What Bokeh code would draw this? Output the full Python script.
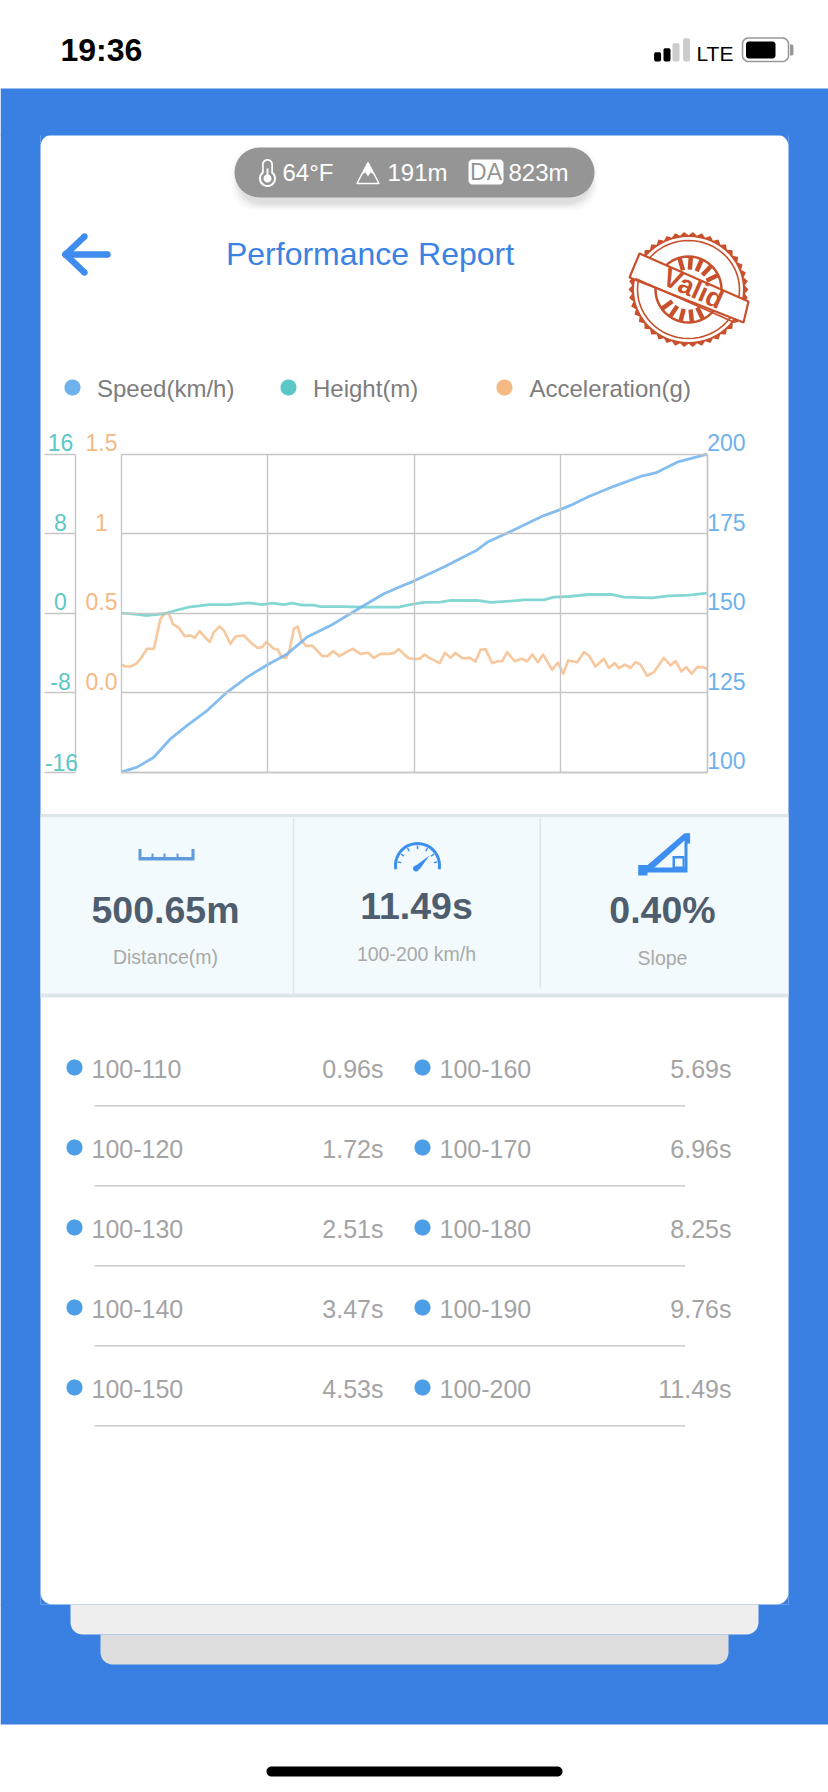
import math
from bokeh.embed import file_html
from bokeh.resources import INLINE
from bokeh.plotting import figure
from bokeh.models import Range1d, LinearAxis, FixedTicker, Label, PolyAnnotation

# ---- chart data ----
speed_t = [0, .314, .640, .967, 1.294, 1.686, 2.078, 2.471, 2.869, 3.255, 3.647, 4.105, 4.758, 5.150,
           5.477, 5.738, 6.327, 6.980, 7.176, 7.569, 8.287, 8.595, 8.810, 9.170, 9.660, 10.183, 10.477,
           10.902, 11.49]
speed_v = [100, 101.6, 104.7, 110.5, 114.7, 119.4, 125.2, 129.9, 133.8, 137.2, 142.5, 146.1, 152.4, 156.1,
           158.4, 160.1, 164.5, 169.9, 172.3, 175.2, 180.7, 182.5, 183.9, 186.7, 189.9, 193.0, 194.1,
           197.5, 200]
height_t = [0, .215, .476, .672, .868, 1.064, 1.326, 1.718, 2.110, 2.502, 2.764, 2.960, 3.188, 3.352, 3.548,
            3.777, 3.907, 4.332, 4.790, 5.443, 5.639, 5.934, 6.261, 6.457, 6.980, 7.242, 7.634, 7.895, 8.287,
            8.483, 8.777, 9.170, 9.627, 9.856, 10.411, 10.738, 11.130, 11.49]
height_v = [0, -.06, -.23, -.13, -.03, .27, .61, .87, .87, 1.04, .87, 1.01, .87, 1.01, .81,
            .81, .67, .67, .61, .61, .84, 1.08, 1.11, 1.28, 1.28, 1.08, 1.21, 1.34, 1.34,
            1.61, 1.68, 1.88, 1.88, 1.61, 1.55, 1.75, 1.81, 2.02]
accel_t = [0, .084, .182, .293, .378, .509, .640, .705, .770, .855, .934, 1.012, 1.130, 1.241, 1.359, 1.444,
           1.535, 1.640, 1.738, 1.816, 1.927, 2.012, 2.143, 2.241, 2.404, 2.535, 2.666, 2.764, 2.842, 2.927,
           2.992, 3.071, 3.143, 3.234, 3.300, 3.385, 3.463, 3.535, 3.626, 3.744, 3.842, 3.940, 4.038, 4.156,
           4.280, 4.430, 4.541, 4.692, 4.842, 4.953, 5.084, 5.247, 5.345, 5.443, 5.541, 5.639,
           5.738, 5.856, 5.948, 6.078, 6.248, 6.346, 6.457, 6.555, 6.686, 6.836, 6.947, 7.046, 7.144, 7.274,
           7.385, 7.470, 7.569, 7.712, 7.843, 7.961, 8.059, 8.170, 8.274, 8.451, 8.562, 8.667,
           8.764, 8.941, 9.072, 9.170, 9.300, 9.464, 9.562, 9.679, 9.758, 9.875, 9.987, 10.085, 10.183, 10.313,
           10.444, 10.640, 10.771, 10.869, 10.987, 11.078, 11.183, 11.294, 11.392, 11.49]
accel_v = [.177, .165, .165, .182, .213, .276, .276, .370, .465, .500, .500, .433, .408, .356, .360, .345,
           .387, .349, .318, .381, .416, .391, .307, .353, .360, .318, .282, .286, .318, .297,
           .276, .272, .224, .219, .265, .402, .416, .328, .293, .297, .265, .230, .230, .261,
           .230, .259, .276, .244, .251, .219, .244, .244, .249, .274, .244, .217,
           .213, .213, .240, .213, .186, .251, .219, .251, .217, .219, .196, .270, .274, .186,
           .198, .198, .255, .198, .213, .198, .240, .192, .240, .144, .190, .119,
           .203, .192, .255, .234, .165, .213, .156, .186, .154, .177, .156, .192, .177, .106,
           .129, .219, .171, .198, .133, .161, .119, .161, .161, .150]
x_grid = [0, 2.8725, 5.745, 8.6175, 11.49]
speed_ticks = [100, 125, 150, 175, 200]
height_ticks = [-16, -8, 0, 8, 16]
accel_ticks = [0.0, 0.5, 1, 1.5]
accel_tick_text = ["0.0", "0.5", "1", "1.5"]
legend_names = ["Speed(km/h)", "Height(m)", "Acceleration(g)"]
stat_values = ["500.65m", "11.49s", "0.40%"]
stat_names = ["Distance(m)", "100-200 km/h", "Slope"]
left_ranges = ["100-110", "100-120", "100-130", "100-140", "100-150"]
left_times = ["0.96s", "1.72s", "2.51s", "3.47s", "4.53s"]
right_ranges = ["100-160", "100-170", "100-180", "100-190", "100-200"]
right_times = ["5.69s", "6.96s", "8.25s", "9.76s", "11.49s"]

# ---- styles and geometry (page pixels) ----
FONT = "Liberation Sans"
C_SPEED, C_HEIGHT, C_ACCEL = "#6fb1ec", "#5cc7c7", "#f5b984"
BLUE, ICON, GREY = "#3a80e2", "#3d8fef", "#959595"
STAMP = "#c8502c"
C_GRID = "#c6c6c6"
W, H = 828, 1792
PX0, PX1, PY0, PY1 = 0, W, 0, H
FL, FR, FT, FB = 120.7, 706.7, 453.7, 771.7      # plot rectangle
BASE_FIX = 0.37                                  # Label's alphabetic anchor sits this many em low

def spread(lo, hi, a_lo, a_hi, page_a, page_b):
    """range whose lo..hi falls on pixels a_lo..a_hi, given the page's edges"""
    k = (hi - lo) / (a_hi - a_lo)
    return Range1d(lo + (page_a - a_lo) * k, lo + (page_b - a_lo) * k)

p = figure(width=W, height=H, output_backend="svg", toolbar_location=None,
           x_range=Range1d(PX0, PX1), y_range=Range1d(PY1, PY0),
           min_border=0, x_axis_type=None, y_axis_type=None,
           background_fill_color="white", border_fill_color="white")
p.outline_line_color = None
p.extra_x_ranges = {"time": spread(0, 11.49, FL, FR, PX0, PX1)}
p.extra_y_ranges = {"speed": spread(100, 200, FB, FT, PY1, PY0),
                    "height": spread(-16, 16, FB, FT, PY1, PY0),
                    "accel": spread(-0.5, 1.5, FB, FT, PY1, PY0)}

hidden = dict(major_label_standoff=0, major_label_text_font_size="0px", major_label_text_color=None,
              minor_tick_line_color=None)
# time axis: its long inward ticks are the vertical rules, its line the chart's floor
p.add_layout(LinearAxis(x_range_name="time", fixed_location=FB, bounds=(0, 11.49),
                        ticker=FixedTicker(ticks=x_grid), axis_line_color=C_GRID, axis_line_width=1.4,
                        major_tick_line_color=C_GRID, major_tick_line_width=1.4,
                        major_tick_in=int(FB - FT), major_tick_out=0, **hidden), "below")
# speed axis: at the right, its long inward ticks are the horizontal rules
p.add_layout(LinearAxis(y_range_name="speed", fixed_location=FR, bounds=(100, 200),
                        ticker=FixedTicker(ticks=speed_ticks), axis_line_color=C_GRID, axis_line_width=1.4,
                        major_tick_line_color=C_GRID, major_tick_line_width=1.4,
                        major_tick_in=int(FR - FL), major_tick_out=0, **hidden), "right")
# height axis: separate rule with outward ticks
p.add_layout(LinearAxis(y_range_name="height", fixed_location=74.7, bounds=(-16, 16),
                        ticker=FixedTicker(ticks=height_ticks), axis_line_color=C_GRID, axis_line_width=1.4,
                        major_tick_line_color=C_GRID, major_tick_line_width=1.4,
                        major_tick_in=0, major_tick_out=31, **hidden), "left")
# acceleration axis: only its scale is seen, through the texts below
p.add_layout(LinearAxis(y_range_name="accel", fixed_location=FL, bounds=(-0.5, 1.5),
                        ticker=FixedTicker(ticks=accel_ticks), axis_line_color=None,
                        major_tick_line_color=None, major_tick_in=0, major_tick_out=0, **hidden), "left")

p.line(accel_t, accel_v, x_range_name="time", y_range_name="accel", line_color="#f6bd8c", line_width=2.6,
       line_alpha=.85, line_join="round")
p.line(height_t, height_v, x_range_name="time", y_range_name="height", line_color="#5cc9c6", line_width=2.8,
       line_alpha=.75, line_join="round")
p.line(speed_t, speed_v, x_range_name="time", y_range_name="speed", line_color="#6fb1ec", line_width=2.8,
       line_alpha=.85, line_join="round")

# ---- helpers working in page pixels ----
def poly(pts, fill, line=None, lw=1, alpha=1.0):
    p.add_layout(PolyAnnotation(xs=[a for a, _ in pts], ys=[b for _, b in pts],
                                fill_color=fill, fill_alpha=alpha if fill else 0,
                                line_color=line, line_width=lw, line_alpha=1 if line else 0))

def box(x0, y0, x1, y1, fill, alpha=1.0):
    poly([(x0, y0), (x1, y0), (x1, y1), (x0, y1)], fill, alpha=alpha)

def arc(xc, yc, r, a0, a1, n=12, ry=None):
    ry = ry if ry is not None else r
    return [(xc + r * math.cos(math.radians(a0 + (a1 - a0) * i / n)),
             yc - ry * math.sin(math.radians(a0 + (a1 - a0) * i / n))) for i in range(n + 1)]

def circle(xc, yc, r, fill, line=None, lw=1):
    poly(arc(xc, yc, r, 0, 360, 40), fill, line, lw)

def rrect(x0, y0, x1, y1, tl, tr, br, bl, fill, line=None, lw=1, alpha=1.0):
    pts = []
    pts += arc(x0 + tl, y0 + tl, tl, 180, 90, 8) if tl else [(x0, y0)]
    pts += arc(x1 - tr, y0 + tr, tr, 90, 0, 8) if tr else [(x1, y0)]
    pts += arc(x1 - br, y1 - br, br, 0, -90, 8) if br else [(x1, y1)]
    pts += arc(x0 + bl, y1 - bl, bl, -90, -180, 8) if bl else [(x0, y1)]
    poly(pts, fill, line, lw, alpha)

def seg(x0, y0, x1, y1, w, color, caps=False):
    d = math.hypot(x1 - x0, y1 - y0)
    nx, ny = -(y1 - y0) / d * w / 2, (x1 - x0) / d * w / 2
    poly([(x0 + nx, y0 + ny), (x1 + nx, y1 + ny), (x1 - nx, y1 - ny), (x0 - nx, y0 - ny)], color)
    if caps:
        circle(x0, y0, w / 2, color)
        circle(x1, y1, w / 2, color)

def text(x, y, s, size, color, align="left", bold=False, angle=0):
    p.add_layout(Label(x=x, y=y, y_offset=size * BASE_FIX, text=s, text_font=FONT, text_font_size=f"{size}px",
                       text_color=color, text_align=align, text_baseline="alphabetic",
                       text_font_style="bold" if bold else "normal", angle=angle, angle_units="deg"))

def tick_label(x, value, s, color, rng, align="center", lift=3):
    p.add_layout(Label(x=x, y=value, y_range_name=rng, text=s, y_offset=lift + 23 * BASE_FIX, text_font=FONT,
                       text_font_size="23px", text_color=color, text_align=align, text_baseline="alphabetic"))

# ---- tick texts through the chart's own ranges ----
for v in height_ticks:
    tick_label(61 if v == -16 else 60, v, str(v), C_HEIGHT, "height", lift=1 if v == -16 else 3)
for v, s in zip(accel_ticks, accel_tick_text):
    tick_label(101, v, s, C_ACCEL, "accel")
for v in speed_ticks:
    tick_label(FR, v, str(v), C_SPEED, "speed", "left", lift=3)

# ---- blue page and card stack ----
box(PX0, 88, PX1, 135, BLUE)
box(PX0, 134, 40, 1605, BLUE)
box(788, 134, PX1, 1605, BLUE)
box(PX0, 1604, PX1, 1724, BLUE)
R = 12
poly([(40, 134)] + arc(40 + R, 134 + R, R, 90, 180, 8), BLUE)
poly([(788, 134)] + arc(788 - R, 134 + R, R, 90, 0, 8), BLUE)
poly([(40, 1604)] + arc(40 + R, 1604 - R, R, 180, 270, 8), BLUE)
poly([(788, 1604)] + arc(788 - R, 1604 - R, R, 0, -90, 8), BLUE)
rrect(70, 1604, 758, 1634, 0, 0, 12, 12, "#eeeeee")
rrect(100, 1634, 728, 1664, 0, 0, 12, 12, "#dddddd")
rrect(266, 1766, 562, 1776, 5, 5, 5, 5, "#000000")

# ---- status bar ----
text(60, 61, "19:36", 32, "#000000", bold=True)
for x0, top, c in [(653.6, 51.7, "#000000"), (663, 47.7, "#000000"), (672, 42.7, "#cccccc"), (682.6, 37.7, "#cccccc")]:
    rrect(x0, top, x0 + 7, 61, 2, 2, 2, 2, c)
text(696, 61, "LTE", 21, "#000000")
rrect(742, 37.5, 788, 61, 6, 6, 6, 6, None, "#999999", 1.6)
rrect(745.5, 41, 775, 58, 3, 3, 3, 3, "#000000")
rrect(789.5, 44, 793, 55, 0, 2, 2, 0, "#999999")

# ---- conditions pill ----
for grow, alpha in [(7, .04), (5, .05), (3, .07), (1, .09)]:
    rrect(234 + 4 - grow, 147 + 6 - grow, 594 - 4 + grow, 197 + 6 + grow, 25, 25, 25, 25, "#777777", alpha=alpha)
rrect(234, 147, 594, 197, 25, 25, 25, 25, GREY)
circle(267, 178, 8.5, "white")
seg(267, 164, 267, 178, 11, "white", caps=True)
circle(267, 178, 6.5, GREY)
seg(267, 164, 267, 178, 7.5, GREY, caps=True)
circle(267, 178, 4, "white")
seg(267, 168, 267, 178, 2, "white")
text(282, 181, "64°F", 24, "white")
poly([(356.5, 183), (367.5, 162), (378.5, 183)], None, "white", 1.5)
poly([(367.5, 162), (361.5, 174), (365, 172), (367.5, 176), (370, 172), (373.5, 174)], "white")
text(387, 181, "191m", 24, "white")
rrect(468, 159, 503, 184, 4, 4, 4, 4, "white")
text(485.5, 180.5, "DA", 23, GREY, "center")
text(508, 181, "823m", 24, "white")

# ---- header ----
seg(65, 254, 107, 254, 6.5, "#3f8bee", caps=True)
seg(65, 254, 84, 236, 6.5, "#3f8bee", caps=True)
seg(65, 254, 84, 272, 6.5, "#3f8bee", caps=True)
text(369.5, 265, "Performance Report", 32, "#3a82e4", "center")

# stamp
sc = (688, 289)
teeth = []
for i in range(84):
    r = 60 if i % 2 == 0 else 56.5
    a = math.radians(i * 360 / 84)
    teeth.append((sc[0] + r * math.cos(a), sc[1] - r * 0.96 * math.sin(a)))
poly(teeth, STAMP)
poly(arc(sc[0], sc[1], 54.5, 0, 360, 60, ry=52.5), "white")
poly(arc(sc[0], sc[1], 51, 0, 360, 60, ry=49), "white", STAMP, 1.6)
poly(arc(sc[0], sc[1], 33, 0, 360, 48), "white", STAMP, 2.5)
for ang in [70, 90, 110, 130, 50, -60, -80, -100, -120, -40]:
    a = math.radians(ang - 24)
    seg(sc[0] + 20 * math.cos(a), sc[1] - 20 * math.sin(a), sc[0] + 33 * math.cos(a), sc[1] - 33 * math.sin(a), 4.5, STAMP)
poly([(639, 253), (748, 301), (743, 322), (629, 277)], "white", STAMP, 2.2)
seg(635, 278, 733, 321.5, 1.8, STAMP)
text(664, 285, "Valid", 27, STAMP, angle=-24, bold=True)

# ---- legend ----
for x_dot, x_txt, col, name in zip([72, 288, 504], [96.5, 312.5, 529], [C_SPEED, C_HEIGHT, C_ACCEL], legend_names):
    circle(x_dot, 387, 8, col)
    text(x_txt, 397, name, 24, "#7d7d7d")

# ---- stats band ----
box(40, 813.5, 788, 817, "#dde6e9")
box(40, 817, 788, 993, "#f3fafd")
box(40, 993, 788, 997, "#dde6e9")
box(292.3, 817, 293.8, 993, "#dde6e9")
box(539, 817, 540.5, 988, "#dde6e9")
for (xc, base), s, name, base2 in zip([(165, 923), (416, 919), (662, 923)], stat_values, stat_names, [964, 961, 965]):
    text(xc, base, s, 37.5, "#4f5e6e", "center", bold=True)
    text(xc, base2, name, 19.5, "#a9a9a9", "center")
# ruler icon
C_RULER = "#5f9bdc"
box(138, 856.5, 194, 860, C_RULER)
for x0, top in [(138, 848.5), (191, 848.5)]:
    box(x0, top, x0 + 3, 857, C_RULER)
for x0 in [151, 163, 176]:
    box(x0, 853, x0 + 2, 857, C_RULER)
# gauge icon
gc = (417, 865)
poly(arc(gc[0], gc[1], 23.5, 190, -10, 30) + arc(gc[0], gc[1], 20.5, -10, 190, 30), ICON)
for ang in [170, 145, 120, 90, 60, 35, 10]:
    a = math.radians(ang)
    seg(gc[0] + 20 * math.cos(a), gc[1] - 20 * math.sin(a), gc[0] + 16.5 * math.cos(a), gc[1] - 16.5 * math.sin(a), 1.5, ICON)
poly([(414, 866), (419, 869), (429, 855)], ICON)
circle(415.5, 868, 3, ICON)
# slope icon
poly([(643, 868), (684, 832.7), (689.6, 832.7), (689.6, 843), (687, 843), (687, 872), (643, 872)], ICON)
poly([(654, 867), (684, 867), (684, 840)], "#f3fafd")
box(672, 855.5, 684, 868, ICON)
box(674.5, 858, 682, 866, "#f3fafd")
box(637.7, 864.5, 647, 875, ICON)

# ---- split table ----
for i in range(5):
    yc = 1067 + 80 * i
    base = 1077.5 + 80 * i
    circle(74, yc, 8, "#4c9fe6")
    circle(422, yc, 8, "#4c9fe6")
    text(91, base, left_ranges[i], 25, "#a4a4a4")
    text(383, base, left_times[i], 25, "#a4a4a4", "right")
    text(439, base, right_ranges[i], 25, "#a4a4a4")
    text(731, base, right_times[i], 25, "#a4a4a4", "right")
    box(94, 1104.7 + 80 * i, 684.5, 1106 + 80 * i, "#c2c2c2")

open("out.html", "w").write(file_html(p, INLINE))
